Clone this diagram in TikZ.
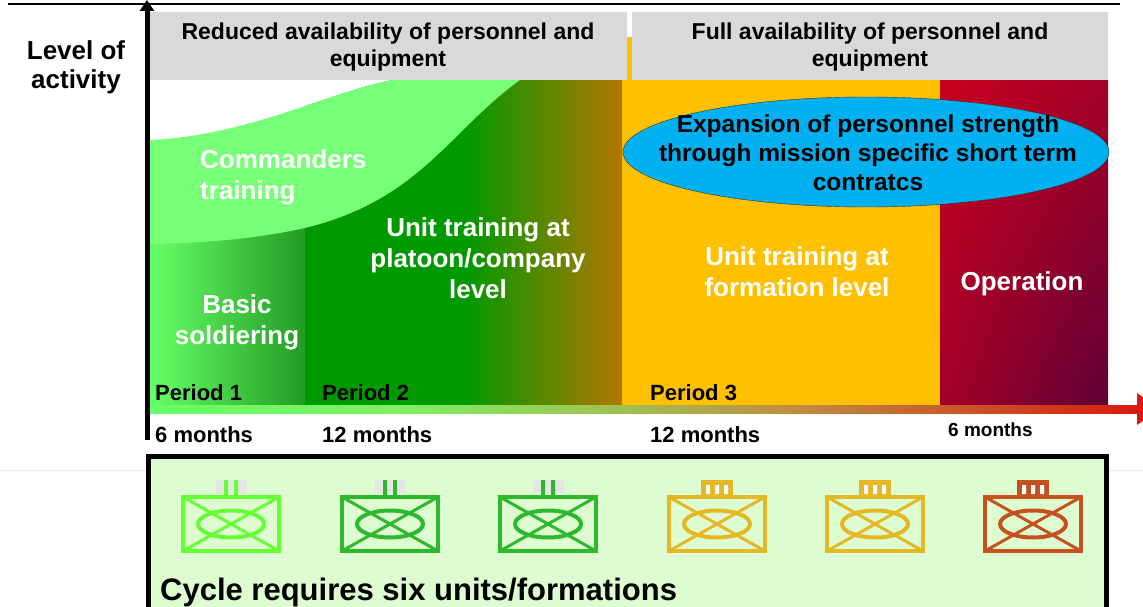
\documentclass[tikz,border=0pt]{standalone}
\usepackage{fontspec}
\setmainfont{Liberation Sans}
\usetikzlibrary{arrows.meta, shadings}

\definecolor{hdrgray}{HTML}{D9D9D9}
\definecolor{cmdgreen}{HTML}{77FF77}
\definecolor{basicA}{HTML}{66FF66}
\definecolor{basicB}{HTML}{239B23}
\definecolor{pltgreen}{HTML}{009900}
\definecolor{pltbrown}{HTML}{B27600}
\definecolor{fmnorange}{HTML}{FFC000}
\definecolor{opA}{HTML}{C8001E}
\definecolor{opB}{HTML}{A30028}
\definecolor{opC}{HTML}{5E0035}
\definecolor{expblue}{HTML}{00B0F0}
\definecolor{boxgreen}{HTML}{DDFDD0}
\definecolor{echgray}{HTML}{E6E6E6}
\definecolor{symA}{HTML}{66FF33}
\definecolor{symB}{HTML}{2DB82D}
\definecolor{symC}{HTML}{E3B726}
\definecolor{symD}{HTML}{C4521E}
\definecolor{barA}{HTML}{66FF66}
\definecolor{barB}{HTML}{80EE60}
\definecolor{barC}{HTML}{A0C050}
\definecolor{barD}{HTML}{C08A40}
\definecolor{barE}{HTML}{CC4A22}
\definecolor{barF}{HTML}{D81A10}

\pgfdeclarehorizontalshading{axisbar}{100bp}{color(0bp)=(barA); color(25bp)=(barA);
  color(38bp)=(barB); color(49bp)=(barC); color(58bp)=(barD); color(68bp)=(barE);
  color(75bp)=(barF); color(100bp)=(barF)}
\pgfdeclarehorizontalshading{plttrain}{100bp}{color(0bp)=(pltgreen); color(25bp)=(pltgreen);
  color(50bp)=(pltgreen); color(75bp)=(pltbrown); color(100bp)=(pltbrown)}

\tikzset{
  hdr/.style={font=\bfseries\fontsize{23}{27}\selectfont, align=center, inner sep=0pt},
  wlbl/.style={text=white, font=\bfseries\fontsize{26}{31}\selectfont, align=center, inner sep=0pt},
  blbl/.style={font=\bfseries\fontsize{22}{26}\selectfont, inner sep=0pt, anchor=base west},
}

\begin{document}
\begin{tikzpicture}[x=1pt, y=-1pt]
\useasboundingbox (0,0) rectangle (1143,607);

% Phasen
\fill[fmnorange] (622,37) rectangle (940,405);
\shade[upper left=opA, upper right=opB, lower left=opB, lower right=opC] (940,80) rectangle (1108,405);
\shade[shading=plttrain] (305,80) rectangle (622,405);
\shade[left color=basicA, right color=basicB] (150,225) rectangle (305,405);
\fill[white] (150,80) -- (392,80) .. controls (320,95) and (250,135) .. (150,140) -- cycle;
\fill[cmdgreen] (150,140) .. controls (250,135) and (320,95) .. (392,80) -- (520,80)
  .. controls (450,130) and (420,200) .. (305,228) .. controls (250,240) and (200,243) .. (150,244) -- cycle;

% Kopfzeile
\fill[hdrgray] (150,12) rectangle (627,80);
\fill[hdrgray] (632,12) rectangle (1108,80);
\node[hdr] (hdrL) at (388,47) {Reduced availability of personnel and\\equipment};
\node[hdr] (hdrR) at (870,47) {Full availability of personnel and\\equipment};
\draw[line width=1.2pt] (8,4) -- (1120,4);

% Ellipse
\draw[black!80, fill=expblue] (866,152) ellipse [x radius=243pt, y radius=55pt];
\node[font=\bfseries\fontsize{24.5}{29}\selectfont, align=center, inner sep=0pt] (exp) at (868,153)
  {Expansion of personnel strength\\through mission specific short term\\contratcs};

% Beschriftungen
\node[wlbl, align=left, anchor=west] (cmd) at (200,177) {Commanders\\training};
\node[wlbl] (basic) at (237,322) {Basic\\soldiering};
\node[wlbl] (plt) at (478,258) {Unit training at\\platoon/company\\level};
\node[wlbl] (fmn) at (797,272) {Unit training at\\formation level};
\node[wlbl] (op) at (1022,284) {Operation};
\node[font=\bfseries\fontsize{26}{29}\selectfont, align=center, inner sep=0pt] (lvl) at (76,67) {Level of\\activity};

% Achsen
\coordinate (xl) at (147,409);
\coordinate (xr) at (1137,409);
\shade[shading=axisbar] (147,405) rectangle (1137,413);
\fill[barF] (1137,393) -- (1160,409) -- (1137,425) -- cycle;
\coordinate (yb) at (147,440);
\coordinate (yt) at (147,0);
\draw[line width=5pt, -{Triangle[width=14pt, length=11pt]}] (yb) -- (yt);

\node[blbl] (p1) at (155,400) {Period 1};
\node[blbl] (p2) at (322,400) {Period 2};
\node[blbl] (p3) at (650,400) {Period 3};
\node[blbl] (m1) at (155,442) {6 months};
\node[blbl] (m2) at (322,442) {12 months};
\node[blbl] (m3) at (650,442) {12 months};
\node[blbl, font=\bfseries\fontsize{19}{22}\selectfont] (m4) at (948,436) {6 months};

% Verbaende
\draw[black!8] (0,470) -- (1143,470);
\draw[line width=5pt, fill=boxgreen] (148,456) rectangle (1106,630);
\foreach \x/\c/\e in {231/symA/2, 390/symB/2, 548/symB/2, 717/symC/3, 875/symC/3, 1033/symD/3} {
  \begin{scope}[shift={(\x,524)}]
    \draw[\c, line width=4pt] (-48,-27) rectangle (48,27);
    \draw[\c, line width=3pt] (-48,-27) -- (48,27) (-48,27) -- (48,-27);
    \draw[\c, line width=4pt] (0,0) ellipse [x radius=33pt, y radius=13.5pt];
    \ifnum\e=2
      \fill[echgray] (-15,-44) rectangle (16,-30);
      \fill[\c] (-7,-44) rectangle (-3,-29) (3,-44) rectangle (7,-29);
    \else
      \fill[\c] (-16,-44) rectangle (16,-29);
      \fill[white] (-11,-39) rectangle (-7,-30) (-2,-39) rectangle (2,-30) (7,-39) rectangle (11,-30);
    \fi
  \end{scope}
}
\node[font=\bfseries\fontsize{31}{36}\selectfont, inner sep=0pt, anchor=base west] (cycle) at (160,600)
  {Cycle requires six units/formations};
\end{tikzpicture}
\end{document}
